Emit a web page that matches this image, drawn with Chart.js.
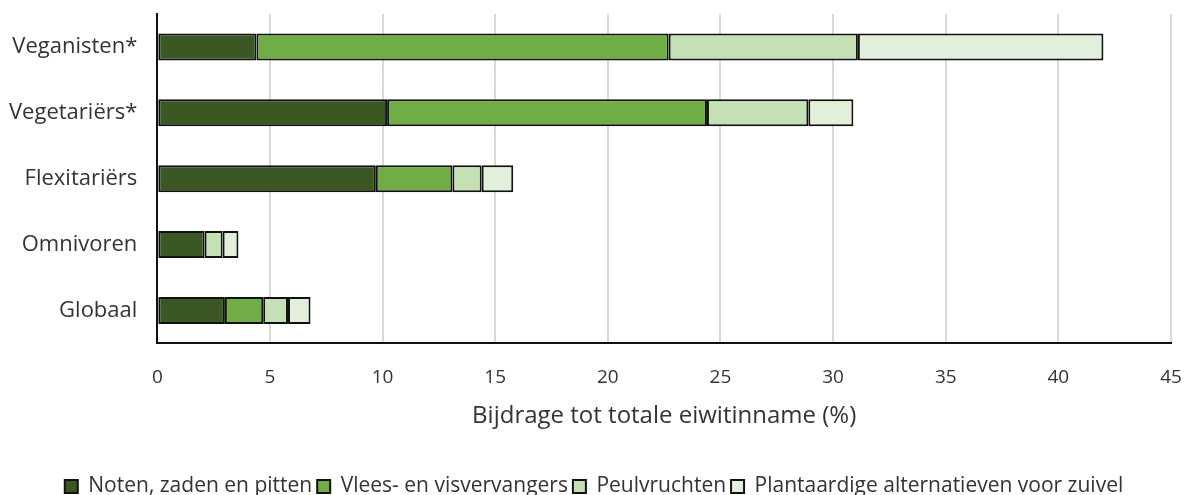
<!DOCTYPE html>
<html>
<head>
<meta charset="utf-8">
<script src="https://cdn.jsdelivr.net/npm/chart.js@4.4.1/dist/chart.umd.min.js"></script>
<style>
  html, body { margin: 0; padding: 0; background: #fff; }
  #wrap { width: 1188px; height: 495px; }
</style>
</head>
<body>
<div id="wrap"><canvas id="chart" width="1188" height="495"></canvas></div>
<script>
// categorieën en waarden (% bijdrage tot totale eiwitinname)
var groepen = ['Veganisten*', 'Vegetariërs*', 'Flexitariërs', 'Omnivoren', 'Globaal'];
var noten = [4.4, 10.2, 9.7, 2.1, 3.0];
var vleesvervangers = [18.3, 14.2, 3.4, 0, 1.7];
var peulvruchten = [8.4, 4.5, 1.3, 0.8, 1.1];
var zuivelAlternatieven = [10.9, 2.0, 1.4, 0.7, 1.0];
var xTicks = [0, 5, 10, 15, 20, 25, 30, 35, 40, 45];

var fontFam = '"Open Sans", Lato, sans-serif';
var tekst = '#333333';

function reeks(label, data, kleur) {
    return {
        label: label,
        data: data,
        backgroundColor: kleur,
        borderColor: '#111111',
        borderWidth: 2,
        borderSkipped: false,
        barPercentage: 0.41,
        categoryPercentage: 1.0
    };
}

var myChart = new Chart('chart', {
    type: 'bar',
    data: {
        labels: groepen,
        datasets: [
            reeks('Noten, zaden en pitten', noten, '#3b5723'),
            reeks('Vlees- en visvervangers', vleesvervangers, '#70ad47'),
            reeks('Peulvruchten', peulvruchten, '#c5e0b4'),
            reeks('Plantaardige alternatieven voor zuivel', zuivelAlternatieven, '#e2efda')
        ]
    },
    options: {
        indexAxis: 'y',
        responsive: false,
        animation: false,
        layout: { padding: { top: 14, right: 0, left: 0, bottom: -12 } },
        plugins: {
            tooltip: { enabled: false },
            legend: {
                display: true,
                position: 'bottom',
                labels: {
                    boxWidth: 13,
                    boxHeight: 13,
                    padding: 5,
                    color: tekst,
                    font: { family: fontFam, size: 21 }
                }
            }
        },
        scales: {
            x: {
                stacked: true,
                min: 0,
                max: 45,
                afterBuildTicks: function (axis) {
                    axis.ticks = xTicks.map(function (v) { return { value: v }; });
                },
                afterFit: function (axis) {
                    axis.paddingLeft = 0;
                    axis.paddingRight = 17;
                },
                grid: { color: '#d9d9d9', lineWidth: 2, drawTicks: false },
                border: { display: true, color: '#111111', width: 2 },
                ticks: {
                    padding: 23,
                    color: tekst,
                    maxRotation: 0,
                    font: { family: fontFam, size: 19 }
                },
                title: {
                    display: true,
                    text: 'Bijdrage tot totale eiwitinname (%)',
                    color: tekst,
                    font: { family: fontFam, size: 24 },
                    padding: { top: -10, bottom: 40 }
                }
            },
            y: {
                stacked: true,
                afterFit: function (axis) {
                    axis.paddingTop = 0;
                    axis.paddingBottom = 0;
                    axis.width = axis.width - 11;
                },
                grid: { display: false, drawTicks: false },
                border: { display: true, color: '#111111', width: 2 },
                ticks: {
                    padding: 20,
                    color: tekst,
                    font: { family: fontFam, size: 22 }
                }
            }
        }
    }
});
</script>
</body>
</html>
